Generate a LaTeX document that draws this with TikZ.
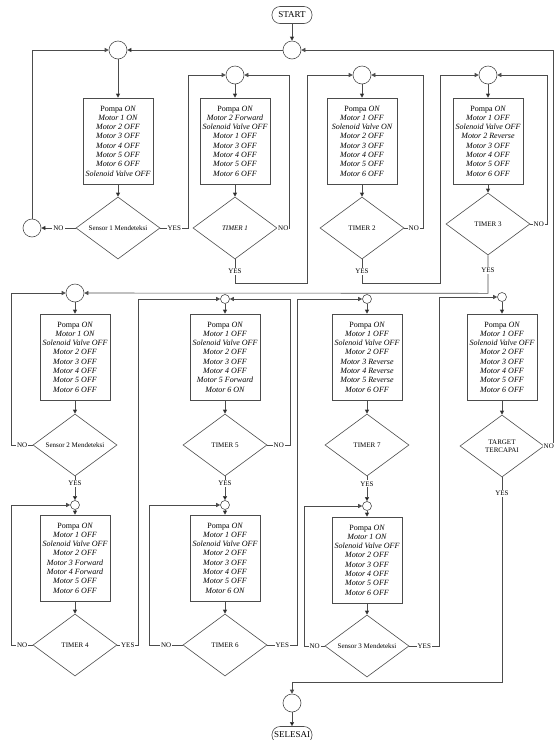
\documentclass[tikz,border=0pt]{standalone}
\usepackage{fontspec}
\setmainfont{Liberation Serif}
\usetikzlibrary{shapes.geometric,arrows.meta}
\begin{document}
\begin{tikzpicture}
	[x=1pt, y=-1pt, >={Triangle[length=4pt,width=4pt]},
	wire/.style ={draw=black!70, line width=0.6pt},
	term/.style ={draw=black!70, line width=0.6pt, rounded corners=8pt, minimum width=40pt, minimum height=17pt, inner sep=2pt, font=\fontsize{9}{10}\selectfont},
	jn/.style ={draw=black!70, line width=0.6pt, circle, minimum size=18pt, inner sep=0pt},
	js/.style ={draw=black!70, line width=0.6pt, circle, minimum size=9pt, inner sep=0pt},
	box/.style ={draw=black!70, line width=0.6pt, minimum width=70pt, minimum height=86pt, inner sep=1pt, align=center, font=\fontsize{8}{9.3}\selectfont\itshape},
	dec/.style ={draw=black!70, line width=0.6pt, diamond, aspect=1.35, minimum width=84pt, minimum height=62pt, inner sep=0pt, align=center, font=\fontsize{7}{8}\selectfont},
	lbl/.style ={fill=white, inner sep=1pt, font=\fontsize{7}{8}\selectfont}]
	\useasboundingbox (0,0) rectangle (555,740);
	% top row
	\node[term] (start) at (292,15) {START};
	\node[jn] (j0) at (292,50) {};
	\node[jn] (j1) at (118,50) {};
	\node[jn] (c1) at (32,228) {};
	\node[box] (b1) at (118,141) {\textup{Pompa} ON\\Motor 1 ON\\Motor 2 OFF\\Motor 3 OFF\\Motor 4 OFF\\Motor 5 OFF\\Motor 6 OFF\\Solenoid Valve OFF};
	\node[dec] (d1) at (118,228) {Sensor 1 Mendeteksi};
	\node[jn] (j2) at (235,75) {};
	\node[box] (b2) at (235,141) {\textup{Pompa} ON\\Motor 2 Forward\\Solenoid Valve OFF\\Motor 1 OFF\\Motor 3 OFF\\Motor 4 OFF\\Motor 5 OFF\\Motor 6 OFF};
	\node[dec] (d2) at (235,228) {\textit{TIMER 1}};
	\node[jn] (j3) at (362,75) {};
	\node[box] (b3) at (362,141) {\textup{Pompa} ON\\Motor 1 OFF\\Solenoid Valve ON\\Motor 2 OFF\\Motor 3 OFF\\Motor 4 OFF\\Motor 5 OFF\\Motor 6 OFF};
	\node[dec] (d3) at (362,228) {TIMER 2};
	\node[jn] (j4) at (488,75) {};
	\node[box] (b4) at (488,141) {\textup{Pompa} ON\\Motor 1 OFF\\Solenoid Valve OFF\\Motor 2 Reverse\\Motor 3 OFF\\Motor 4 OFF\\Motor 5 OFF\\Motor 6 OFF};
	\node[dec] (d4) at (488,224) {TIMER 3};
	% second row
	\node[jn] (j5) at (75,293) {};
	\node[box] (b5) at (75,357) {\textup{Pompa} ON\\Motor 1 ON\\Solenoid Valve OFF\\Motor 2 OFF\\Motor 3 OFF\\Motor 4 OFF\\Motor 5 OFF\\Motor 6 OFF};
	\node[dec] (d5) at (75,445) {Sensor 2 Mendeteksi};
	\node[js] (j9) at (75,505) {};
	\node[box] (b9) at (75,558) {\textup{Pompa} ON\\Motor 1 OFF\\Solenoid Valve OFF\\Motor 2 OFF\\Motor 3 Forward\\Motor 4 Forward\\Motor 5 OFF\\Motor 6 OFF};
	\node[dec] (d9) at (75,645) {TIMER 4};
	\node[js] (j6) at (225,299) {};
	\node[box] (b6) at (225,357) {\textup{Pompa} ON\\Motor 1 OFF\\Solenoid Valve OFF\\Motor 2 OFF\\Motor 3 OFF\\Motor 4 OFF\\Motor 5 Forward\\Motor 6 ON};
	\node[dec] (d6) at (225,445) {TIMER 5};
	\node[js] (j10) at (225,505) {};
	\node[box] (b10) at (225,558) {\textup{Pompa} ON\\Motor 1 OFF\\Solenoid Valve OFF\\Motor 2 OFF\\Motor 3 OFF\\Motor 4 OFF\\Motor 5 OFF\\Motor 6 ON};
	\node[dec] (d10) at (225,645) {TIMER 6};
	\node[js] (j7) at (367,299) {};
	\node[box] (b7) at (367,357) {\textup{Pompa} ON\\Motor 1 OFF\\Solenoid Valve OFF\\Motor 2 OFF\\Motor 3 Reverse\\Motor 4 Reverse\\Motor 5 Reverse\\Motor 6 OFF};
	\node[dec] (d7) at (367,445) {TIMER 7};
	\node[js] (j11) at (367,506) {};
	\node[box] (b11) at (367,560) {\textup{Pompa} ON\\Motor 1 ON\\Solenoid Valve OFF\\Motor 2 OFF\\Motor 3 OFF\\Motor 4 OFF\\Motor 5 OFF\\Motor 6 OFF};
	\node[dec] (d11) at (367,646) {Sensor 3 Mendeteksi};
	\node[js] (j8) at (502,297) {};
	\node[box] (b8) at (502,357) {\textup{Pompa} ON\\Motor 1 OFF\\Solenoid Valve OFF\\Motor 2 OFF\\Motor 3 OFF\\Motor 4 OFF\\Motor 5 OFF\\Motor 6 OFF};
	\node[dec] (d8) at (502,446) {TARGET\\TERCAPAI};
	\node[jn] (j12) at (292,703) {};
	\node[term] (stop) at (292,735) {SELESAI};
	% straight arrows
	\path[->, wire] (start) edge (j0)
	(j0) edge (j1)
	(j1) edge (b1) (b1) edge (d1)
	(d1) edge node[lbl] {NO} (c1)
	(j2) edge (b2) (b2) edge (d2)
	(j3) edge (b3) (b3) edge (d3)
	(j4) edge (b4) (b4) edge (d4)
	(j5) edge (b5) (b5) edge (d5)
	(d5) edge node[lbl, pos=0.3] {YES} (j9)
	(j9) edge (b9) (b9) edge (d9)
	(j6) edge (b6) (b6) edge (d6)
	(d6) edge node[lbl, pos=0.3] {YES} (j10)
	(j10) edge (b10) (b10) edge (d10)
	(j7) edge (b7) (b7) edge (d7)
	(d7) edge node[lbl, pos=0.3] {YES} (j11)
	(j11) edge (b11) (b11) edge (d11)
	(j8) edge (b8) (b8) edge (d8)
	(j12) edge (stop);
	% loops of the top row
	\draw[->, wire] (c1) |- (j1);
	\draw[->, wire] (d1.east) -- node[lbl] {YES} ++(28,0) |- (j2);
	\draw[->, wire] (d2.east) -- node[lbl] {NO} ++(12,0) |- (j2);
	\draw[->, wire] (d2.south) -- node[lbl] {YES} ++(0,24) -- ++(72,0) |- (j3);
	\draw[->, wire] (d3.east) -- node[lbl] {NO} ++(19,0) |- (j3);
	\draw[->, wire] (d3.south) -- node[lbl] {YES} ++(0,24) -- ++(78,0) |- (j4);
	\draw[->, wire] (d4.east) -- node[lbl] {NO} ++(17,0) |- (j4);
	\draw[->, wire] (d4.south) -- node[lbl, pos=0.4] {YES} ++(0,38) -- (j5);
	% loops of the second row
	\draw[->, wire] (d5.west) -- node[lbl] {NO} ++(-21,0) |- (j5);
	\draw[->, wire] (d9.west) -- node[lbl] {NO} ++(-21,0) |- (j9);
	\draw[->, wire] (d9.east) -- node[lbl] {YES} ++(21,0) |- (j6);
	\draw[->, wire] (d6.east) -- node[lbl] {NO} ++(23,0) |- (j6);
	\draw[->, wire] (d10.west) -- node[lbl] {NO} ++(-33,0) |- (j10);
	\draw[->, wire] (d10.east) -- node[lbl] {YES} ++(30,0) |- (j7);
	\draw[->, wire] (d11.west) -- node[lbl] {NO} ++(-20,0) |- (j11);
	\draw[->, wire] (d11.east) -- node[lbl] {YES} ++(30,0) |- (j8);
	\draw[->, wire] (d8.east) -- node[lbl] {NO} ++(9,0) |- (j0);
	\draw[->, wire] (d8.south) -- node[lbl, pos=0.08] {YES} ++(0,205) -| (j12);
\end{tikzpicture}
\end{document}
